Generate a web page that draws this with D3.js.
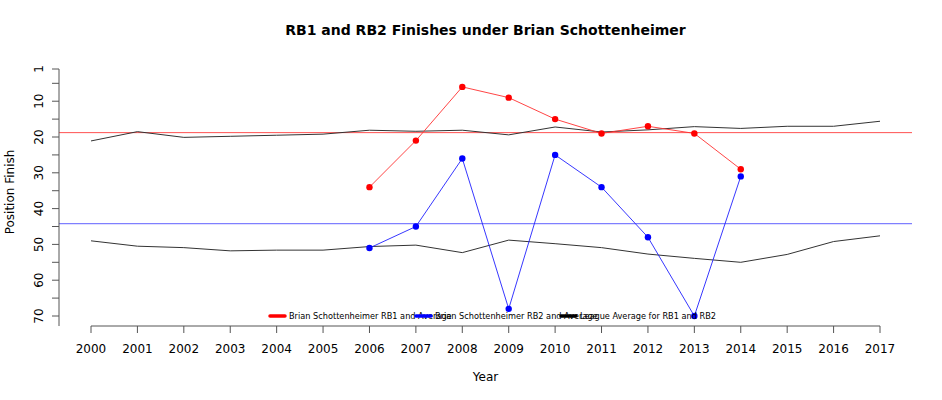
<!DOCTYPE html>
<html><head><meta charset="utf-8">
<script src="https://cdn.jsdelivr.net/npm/d3@7"></script>
<style>body{margin:0;background:#fff}</style>
</head><body>
<svg id="c" width="942" height="400"></svg>
<script>
const years = [2000,2001,2002,2003,2004,2005,2006,2007,2008,2009,2010,2011,2012,2013,2014,2015,2016,2017];
const coachYears = [2006,2007,2008,2009,2010,2011,2012,2013,2014];
const rb1Coach = [34,21,6,9,15,19,17,19,29];
const rb2Coach = [51,45,26,68,25,34,48,70,31];
const rb1League = [21.1,18.5,20.1,19.8,19.5,19.2,18.1,18.4,18.1,19.4,17.2,18.6,18.0,17.1,17.6,17.0,17.0,15.6];
const rb2League = [49.0,50.5,50.9,51.8,51.6,51.6,50.6,50.2,52.3,48.8,49.8,50.9,52.7,53.9,55.0,52.8,49.2,47.6];
const yTicks = [1,5,10,15,20,25,30,35,40,45,50,55,60,65,70];
const yLabels = [1,10,20,30,40,50,60,70];
const legendLabels = ["Brian Schottenheimer RB1 and Average","Brian Schottenheimer RB2 and Average","League Average for RB1 and RB2"];

const svg = d3.select("#c");
const font = "DejaVu Sans, sans-serif";
const x = d3.scaleLinear().domain([2000,2017]).range([91,880]);
const y = d3.scaleLinear().domain([1,70]).range([69,316]);
const plotL = 59, plotR = 912;

// Mean lines
const m1 = d3.mean(rb1Coach), m2 = d3.mean(rb2Coach);
svg.append("line").attr("x1",plotL).attr("x2",plotR).attr("y1",y(m1)).attr("y2",y(m1))
  .attr("stroke","#ff5050").attr("stroke-width",1);
svg.append("line").attr("x1",plotL).attr("x2",plotR).attr("y1",y(m2)).attr("y2",y(m2))
  .attr("stroke","#7f7fff").attr("stroke-width",1.3);

const line = d3.line().x(d=>x(d[0])).y(d=>y(d[1]));
// League lines
svg.append("path").datum(years.map((yr,i)=>[yr,rb1League[i]])).attr("d",line)
  .attr("fill","none").attr("stroke","#333").attr("stroke-width",1);
svg.append("path").datum(years.map((yr,i)=>[yr,rb2League[i]])).attr("d",line)
  .attr("fill","none").attr("stroke","#333").attr("stroke-width",1);

// coach lines
function series(vals,lineColor,ptColor){
  const data = coachYears.map((yr,i)=>[yr,vals[i]]);
  svg.append("path").datum(data).attr("d",line).attr("fill","none").attr("stroke",lineColor).attr("stroke-width",0.9);
  svg.selectAll(null).data(data).enter().append("circle")
    .attr("cx",d=>x(d[0])).attr("cy",d=>y(d[1])).attr("r",3.2).attr("fill",ptColor);
}
series(rb1Coach,"#ff3030","#ff0000");
series(rb2Coach,"#2020ff","#0000ff");

// Y axis
const axisCol = "#555";
svg.append("line").attr("x1",plotL).attr("x2",plotL).attr("y1",y(1)).attr("y2",y(72.8)).attr("stroke",axisCol);
svg.selectAll(null).data(yTicks).enter().append("line")
  .attr("x1",plotL-7).attr("x2",plotL).attr("y1",d=>y(d)).attr("y2",d=>y(d)).attr("stroke",axisCol);
svg.selectAll(null).data(yLabels).enter().append("text")
  .attr("transform",d=>`translate(43,${y(d)}) rotate(-90)`)
  .attr("text-anchor","middle").attr("font-family",font).attr("font-size",12).attr("fill","#000")
  .text(d=>d);

// X axis
const axY = 326;
svg.append("line").attr("x1",x(2000)).attr("x2",x(2017)).attr("y1",axY).attr("y2",axY).attr("stroke",axisCol);
svg.selectAll(null).data(years).enter().append("line")
  .attr("x1",d=>x(d)).attr("x2",d=>x(d)).attr("y1",axY).attr("y2",axY+7).attr("stroke",axisCol);
svg.selectAll(null).data(years).enter().append("text")
  .attr("x",d=>x(d)).attr("y",353).attr("text-anchor","middle").attr("font-family",font).attr("font-size",12)
  .text(d=>d);

// Titles
svg.append("text").attr("x",485.5).attr("y",35).attr("text-anchor","middle").attr("font-family",font)
  .attr("font-size",14).attr("font-weight","bold").text("RB1 and RB2 Finishes under Brian Schottenheimer");
svg.append("text").attr("x",485.5).attr("y",381).attr("text-anchor","middle").attr("font-family",font)
  .attr("font-size",12).text("Year");
svg.append("text").attr("transform","translate(14,192) rotate(-90)").attr("text-anchor","middle").attr("font-family",font)
  .attr("font-size",12).text("Position Finish");

// Legend
const legCols = ["#ff0000","#0000ff","#000000"];
const legX = [270,416,561];
legendLabels.forEach((lab,i)=>{
  svg.append("line").attr("x1",legX[i]).attr("x2",legX[i]+15).attr("y1",316).attr("y2",316)
    .attr("stroke",legCols[i]).attr("stroke-width",3.5).attr("stroke-linecap","round");
  svg.append("text").attr("x",legX[i]+19).attr("y",319).attr("font-family","DejaVu Sans Condensed, DejaVu Sans, sans-serif")
    .attr("font-size",9.1).text(lab);
});
</script>
</body></html>
